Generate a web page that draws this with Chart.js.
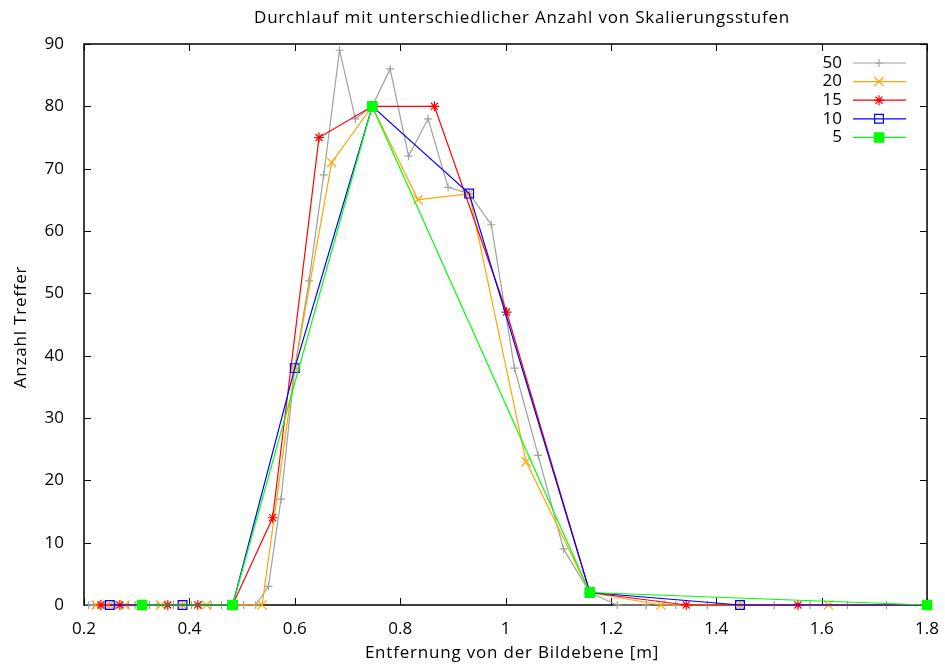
<!DOCTYPE html>
<html>
<head>
<meta charset="utf-8">
<script src="https://cdn.jsdelivr.net/npm/chart.js@4/dist/chart.umd.min.js"></script>
<style>
html,body{margin:0;padding:0;background:#fff;}
#wrap{width:945px;height:664px;}
</style>
</head>
<body>
<div id="wrap"><canvas id="c" width="945" height="664"></canvas></div>
<script>
// ---- data ----
const seriesNames = ['50', '20', '15', '10', '5'];

const x50 = [0.209,0.218,0.228,0.238,0.249,0.260,0.272,0.284,0.297,0.310,
             0.324,0.339,0.354,0.370,0.387,0.404,0.422,0.441,0.461,0.482,
             0.503,0.526,0.550,0.574,0.600,0.627,0.655,0.685,0.715,0.747,
             0.781,0.816,0.853,0.891,0.931,0.973,1.017,1.062,1.110,1.160,
             1.212,1.267,1.323,1.383,1.445,1.510,1.578,1.649,1.723,1.800];
const y50 = [0,0,0,0,0,0,0,0,0,0,
             0,0,0,0,0,0,0,0,0,0,
             0,0,3,17,38,52,69,89,78,80,
             86,72,78,67,66,61,38,24,9,2,
             0,0,0,0,0,0,0,0,0,0];

const x20 = [0.223,0.249,0.278,0.310,0.346,0.387,0.432,0.482,0.538,0.600,
             0.670,0.747,0.834,0.931,1.039,1.160,1.295,1.445,1.613,1.800];
const y20 = [0,0,0,0,0,0,0,0,0,38,71,80,65,66,23,2,0,0,0,0];

const x15 = [0.232,0.268,0.310,0.359,0.416,0.482,0.558,0.646,0.747,0.865,
             1.002,1.160,1.343,1.555,1.800];
const y15 = [0,0,0,0,0,0,14,75,80,80,47,2,0,0,0];

const x10 = [0.249,0.310,0.387,0.482,0.600,0.747,0.931,1.160,1.445,1.800];
const y10 = [0,0,0,0,38,80,66,2,0,0];

const x5 = [0.310,0.482,0.747,1.160,1.800];
const y5 = [0,0,80,2,0];

const xTicks = [0.2,0.4,0.6,0.8,1,1.2,1.4,1.6,1.8];
const yTicks = [0,10,20,30,40,50,60,70,80,90];

const chartTitle = 'Durchlauf mit unterschiedlicher Anzahl von Skalierungsstufen';
const xTitle = 'Entfernung von der Bildebene [m]';
const yTitle = 'Anzahl Treffer';

const FONT = "'Open Sans', 'Noto Sans', sans-serif";

function pts(xs, ys){ return xs.map((x,i)=>({x:x, y:ys[i]})); }

const styles = [
  {color:'#a0a0a0', pointStyle:'cross',    radius:4,   fill:false},
  {color:'#ffa500', pointStyle:'crossRot', radius:6.5, fill:false},
  {color:'#ff0000', pointStyle:'star',     radius:5,   fill:false},
  {color:'#0000ff', pointStyle:'rect',     radius:6.2, fill:false},
  {color:'#00ff00', pointStyle:'rect',     radius:6.6, fill:true}
];
const xs = [x50,x20,x15,x10,x5];
const ys = [y50,y20,y15,y10,y5];

const datasets = seriesNames.map((name,i)=>({
  label: name,
  data: pts(xs[i], ys[i]),
  showLine: true,
  borderColor: styles[i].color,
  backgroundColor: styles[i].fill ? styles[i].color : 'rgba(0,0,0,0)',
  pointBorderColor: styles[i].color,
  pointBackgroundColor: styles[i].fill ? styles[i].color : 'rgba(0,0,0,0)',
  borderWidth: 1.2,
  pointBorderWidth: 1.2,
  pointStyle: styles[i].pointStyle,
  pointRadius: styles[i].radius,
  pointHoverRadius: styles[i].radius,
  tension: 0,
  clip: false,
  order: 5 - i
}));

// frame with inward ticks (gnuplot style), drawn below data
const framePlugin = {
  id: 'frame',
  beforeDatasetsDraw(chart){
    const {ctx, chartArea:a, scales:{x, y}} = chart;
    ctx.save();
    ctx.strokeStyle = '#000';
    ctx.lineWidth = 1;
    const L = 7;
    ctx.beginPath();
    xTicks.forEach(v=>{
      const px = Math.round(x.getPixelForValue(v)) + 0.5;
      ctx.moveTo(px, a.bottom); ctx.lineTo(px, a.bottom - L);
      ctx.moveTo(px, a.top); ctx.lineTo(px, a.top + L);
    });
    yTicks.forEach(v=>{
      const py = Math.round(y.getPixelForValue(v)) + 0.5;
      ctx.moveTo(a.left, py); ctx.lineTo(a.left + L, py);
      ctx.moveTo(a.right, py); ctx.lineTo(a.right - L, py);
    });
    ctx.stroke();
    ctx.lineWidth = 1.5;
    ctx.strokeRect(a.left, a.top, a.right - a.left, a.bottom - a.top);
    ctx.restore();
  }
};

// titles (gnuplot places them slightly off-centre)
const titlesPlugin = {
  id: 'titles',
  afterDraw(chart){
    const ctx = chart.ctx;
    ctx.save();
    ctx.fillStyle = '#000';
    ctx.font = '17px ' + FONT;
    if ('letterSpacing' in ctx) ctx.letterSpacing = '0.8px';
    ctx.textAlign = 'center';
    ctx.textBaseline = 'alphabetic';
    ctx.fillText(chartTitle, 522, 23);
    ctx.fillText(xTitle, 512, 658);
    ctx.translate(25.5, 327);
    ctx.rotate(-Math.PI/2);
    ctx.fillText(yTitle, 0, 0);
    ctx.restore();
  }
};

// gnuplot-like key: label, then a line sample with the point symbol
const keyPlugin = {
  id: 'key',
  afterDatasetsDraw(chart){
    const ctx = chart.ctx;
    ctx.save();
    chart.data.datasets.forEach((ds, i)=>{
      const yy = 63 + i * 18.6;
      ctx.fillStyle = '#000';
      ctx.font = '17px ' + FONT;
      ctx.textAlign = 'right';
      ctx.textBaseline = 'middle';
      ctx.fillText(ds.label, 842, yy);
      ctx.strokeStyle = ds.borderColor;
      ctx.lineWidth = 1.2;
      ctx.beginPath();
      ctx.moveTo(853, yy); ctx.lineTo(906, yy);
      ctx.stroke();
      ctx.fillStyle = ds.pointBackgroundColor;
      ctx.strokeStyle = ds.pointBorderColor;
      Chart.helpers.drawPoint(ctx, {pointStyle: ds.pointStyle, radius: ds.pointRadius, rotation: 0, borderWidth: 1.2}, 879, yy);
    });
    ctx.restore();
  }
};

new Chart(document.getElementById('c'), {
  type: 'scatter',
  data: { datasets: datasets },
  options: {
    responsive: false,
    animation: false,
    events: [],
    layout: { padding: { left: 0, right: 16, top: 44, bottom: 0 } },
    plugins: {
      legend: { display: false },
      tooltip: { enabled: false },
      title: { display: false }
    },
    scales: {
      x: {
        type: 'linear',
        min: 0.2, max: 1.8,
        grid: { display: false },
        border: { display: false },
        afterBuildTicks(s){ s.ticks = xTicks.map(v=>({value:v})); },
        afterFit(s){ s.height = 59; },
        ticks: {
          color: '#000',
          padding: 6,
          maxRotation: 0,
          font: { family: FONT, size: 17 },
          callback: v => String(v)
        },
        title: { display: false }
      },
      y: {
        type: 'linear',
        min: 0, max: 90,
        grid: { display: false },
        border: { display: false },
        afterBuildTicks(s){ s.ticks = yTicks.map(v=>({value:v})); },
        afterFit(s){ s.width = 84; },
        ticks: {
          color: '#000',
          padding: 12,
          font: { family: FONT, size: 17 }
        },
        title: { display: false }
      }
    }
  },
  plugins: [framePlugin, keyPlugin, titlesPlugin]
});
</script>
</body>
</html>
